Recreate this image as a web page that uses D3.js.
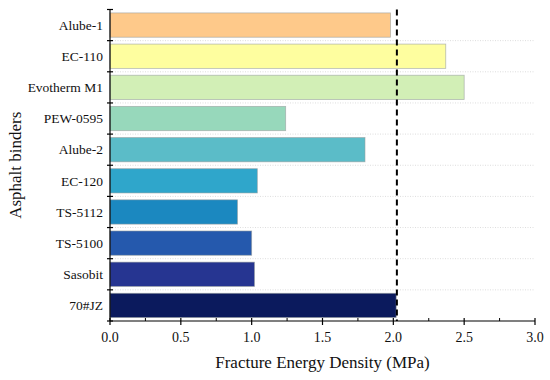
<!DOCTYPE html>
<html><head><meta charset="utf-8">
<script src="https://cdn.jsdelivr.net/npm/d3@7"></script>
<style>body{margin:0;background:#fff}svg{display:block}</style>
</head><body><svg id="c" width="550" height="380"></svg>
<script>
const categories = ["Alube-1","EC-110","Evotherm M1","PEW-0595","Alube-2","EC-120","TS-5112","TS-5100","Sasobit","70#JZ"];
const values = [1.98, 2.37, 2.50, 1.24, 1.80, 1.04, 0.90, 1.00, 1.02, 2.02];
const colors = ["#fec98a","#fefe9f","#d2efb6","#97d8bb","#5bbcc8","#2fa6cb","#1b88c0","#2559ad","#263591","#0b1a5d"];
const refValue = 2.025;
const xTicks = [0, 0.5, 1.0, 1.5, 2.0, 2.5, 3.0];
const xMinor = [0.25, 0.75, 1.25, 1.75, 2.25, 2.75];

const FONT = "'Liberation Serif', 'Times New Roman', Times, serif";
const svg = d3.select("#c");
const m = {l:110, r:535, t:9.5, b:321};
const x = d3.scaleLinear().domain([0,3]).range([m.l, m.r]);
const y = d3.scaleBand().domain(categories).range([m.t, m.b]).paddingInner(0.22).paddingOuter(0.11);
const step = y.step();

const bounds = d3.range(1, categories.length).map(i => m.t + i*step);
svg.append("g").selectAll("line").data(bounds).join("line")
  .attr("x1", m.l).attr("x2", m.r).attr("y1", d=>d).attr("y2", d=>d)
  .attr("stroke", "#dddddd").attr("stroke-width", 1).attr("stroke-dasharray", "1,1.5");

svg.append("g").selectAll("rect").data(categories).join("rect")
  .attr("x", x(0)).attr("y", d=>y(d))
  .attr("width", (d,i)=>x(values[i])-x(0)).attr("height", y.bandwidth())
  .attr("fill", (d,i)=>colors[i])
  .attr("stroke", "#9aa0a0").attr("stroke-opacity", 0.7).attr("stroke-width", 0.8);

svg.append("line").attr("x1", x(refValue)).attr("x2", x(refValue))
  .attr("y1", m.t).attr("y2", m.b)
  .attr("stroke", "#000").attr("stroke-width", 2).attr("stroke-dasharray", "6,4");

const gx = svg.append("g");
gx.append("line").attr("x1", m.l).attr("x2", m.r).attr("y1", m.b).attr("y2", m.b).attr("stroke","#000").attr("stroke-width",1.2);
gx.selectAll("line.maj").data(xTicks).join("line").attr("class","maj")
  .attr("x1", d=>x(d)).attr("x2", d=>x(d)).attr("y1", m.b-3).attr("y2", m.b+4).attr("stroke","#000").attr("stroke-width",1.2);
gx.selectAll("line.min").data(xMinor).join("line").attr("class","min")
  .attr("x1", d=>x(d)).attr("x2", d=>x(d)).attr("y1", m.b-3).attr("y2", m.b).attr("stroke","#000").attr("stroke-width",1);
gx.selectAll("text").data(xTicks).join("text")
  .attr("x", d=>x(d)).attr("y", m.b+21).attr("text-anchor","middle")
  .style("font-family", FONT).style("font-size", "14px").style("fill", "#111")
  .text(d=>d.toFixed(1));

const gy = svg.append("g");
gy.append("line").attr("x1", m.l).attr("x2", m.l).attr("y1", m.t).attr("y2", m.b).attr("stroke","#000").attr("stroke-width",1.2);
gy.selectAll("line.t").data(d3.range(0, categories.length+1).map(i=>m.t+i*step)).join("line").attr("class","t")
  .attr("x1", m.l-3).attr("x2", m.l+3).attr("y1", d=>d).attr("y2", d=>d).attr("stroke","#000").attr("stroke-width",1.2);
gy.selectAll("text").data(categories).join("text")
  .attr("x", m.l-7).attr("y", d=>y(d)+y.bandwidth()/2).attr("dy","0.35em")
  .attr("text-anchor","end")
  .style("font-family", FONT).style("font-size", "13.5px").style("fill", "#111")
  .text(d=>d);

svg.append("text").attr("x", (m.l+m.r)/2).attr("y", 368).attr("text-anchor","middle")
  .style("font-family", FONT).style("font-size", "17px").style("fill", "#111")
  .text("Fracture Energy Density (MPa)");
svg.append("text").attr("transform", `translate(21,${(m.t+m.b)/2}) rotate(-90)`)
  .attr("text-anchor","middle")
  .style("font-family", FONT).style("font-size", "17px").style("fill", "#111")
  .text("Asphalt binders");
</script></body></html>
